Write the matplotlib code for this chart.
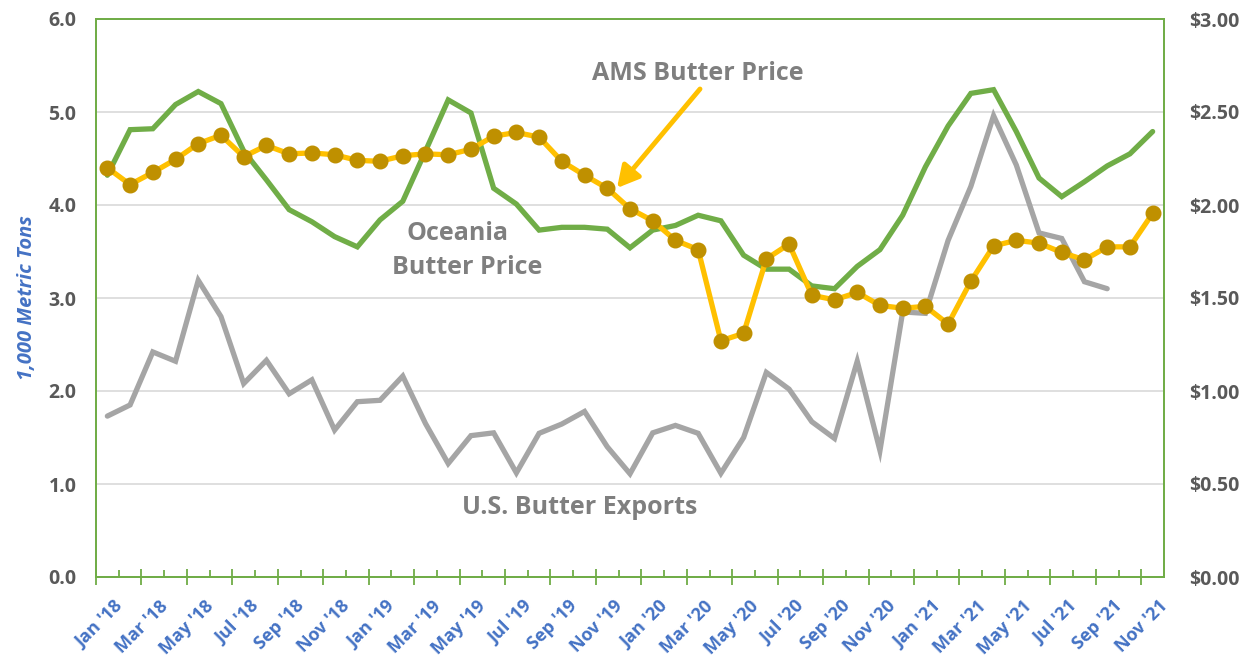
import matplotlib
matplotlib.use("Agg")
import matplotlib.pyplot as plt
import matplotlib.transforms as mtransforms
from matplotlib.patches import FancyArrowPatch
import numpy as np

plt.rcParams['font.family'] = ['Open Sans', 'DejaVu Sans']

# ---------------- data ----------------
months = ["Jan '18", "Feb '18", "Mar '18", "Apr '18", "May '18", "Jun '18", "Jul '18", "Aug '18",
          "Sep '18", "Oct '18", "Nov '18", "Dec '18", "Jan '19", "Feb '19", "Mar '19", "Apr '19",
          "May '19", "Jun '19", "Jul '19", "Aug '19", "Sep '19", "Oct '19", "Nov '19", "Dec '19",
          "Jan '20", "Feb '20", "Mar '20", "Apr '20", "May '20", "Jun '20", "Jul '20", "Aug '20",
          "Sep '20", "Oct '20", "Nov '20", "Dec '20", "Jan '21", "Feb '21", "Mar '21", "Apr '21",
          "May '21", "Jun '21", "Jul '21", "Aug '21", "Sep '21", "Oct '21", "Nov '21"]

# U.S. butter exports, 1,000 metric tons (left axis)
us_exports = [1.73, 1.85, 2.42, 2.32, 3.19, 2.80, 2.08, 2.33, 1.97, 2.12, 1.58, 1.885,
              1.90, 2.16, 1.65, 1.22, 1.52, 1.55, 1.12, 1.545, 1.645, 1.78, 1.40, 1.11,
              1.55, 1.63, 1.545, 1.115, 1.50, 2.20, 2.02, 1.67, 1.49, 2.32, 1.36, 2.85,
              2.835, 3.62, 4.20, 4.96, 4.43, 3.70, 3.64, 3.175, 3.10, None, None]

# Oceania butter price, $/lb (right axis)
oceania_price = [2.16, 2.405, 2.41, 2.54, 2.61, 2.545, 2.29, 2.135, 1.975, 1.91, 1.83, 1.775,
                 1.92, 2.02, 2.29, 2.565, 2.495, 2.09, 2.005, 1.865, 1.88, 1.88, 1.87, 1.77,
                 1.865, 1.89, 1.945, 1.915, 1.73, 1.655, 1.655, 1.565, 1.55, 1.67, 1.76, 1.945,
                 2.205, 2.425, 2.60, 2.62, 2.395, 2.145, 2.045, 2.125, 2.21, 2.275, 2.395]

# AMS butter price, $/lb (right axis)
ams_price = [2.20, 2.11, 2.175, 2.245, 2.33, 2.375, 2.26, 2.32, 2.275, 2.28, 2.27, 2.24,
             2.235, 2.265, 2.275, 2.27, 2.30, 2.37, 2.39, 2.365, 2.235, 2.16, 2.09, 1.98,
             1.915, 1.81, 1.76, 1.27, 1.31, 1.71, 1.79, 1.515, 1.49, 1.53, 1.46, 1.445,
             1.455, 1.36, 1.59, 1.78, 1.81, 1.795, 1.745, 1.705, 1.775, 1.775, 1.955]

left_ticks = [0, 1, 2, 3, 4, 5, 6]
right_ticks = [0, 0.5, 1.0, 1.5, 2.0, 2.5, 3.0]

# ---------------- style ----------------
GREEN = '#70AD47'
YELLOW = '#FFC000'
MARKER = '#BF9000'
GRAY = '#A5A5A5'
TICKGRAY = '#595959'
BLUE = '#4472C4'
TEXTGRAY = '#7F7F7F'

W, H = 1245, 660
fig = plt.figure(figsize=(W / 100, H / 100), dpi=100)
ax = fig.add_axes([96 / W, (H - 577) / H, 1068 / W, 558 / H])
ax2 = ax.twinx()

x = np.arange(len(months))
exports = np.array([np.nan if v is None else v for v in us_exports], dtype=float)

ax.plot(x, exports, color=GRAY, lw=3.8, solid_joinstyle='miter', solid_capstyle='round', zorder=3)
ax2.plot(x, oceania_price, color=GREEN, lw=3.8, solid_joinstyle='miter', solid_capstyle='round', zorder=3)
ax2.plot(x, ams_price, color=YELLOW, lw=3.8, marker='o', markersize=10.5,
         markerfacecolor=MARKER, markeredgecolor=MARKER, zorder=4)

ax.set_xlim(-0.5, len(months) - 0.5)
ax.set_ylim(0, 6)
ax2.set_ylim(0, 3)

ax.set_yticks(left_ticks)
ax.set_yticklabels([f"{v:.1f}" for v in left_ticks])
ax2.set_yticks(right_ticks)
ax2.set_yticklabels([f"${v:.2f}" for v in right_ticks])

ax.grid(axis='y', color='#D9D9D9', lw=1.2, zorder=0)
ax.set_axisbelow(True)

for a in (ax, ax2):
    for s in a.spines.values():
        s.set_color(GREEN)
        s.set_linewidth(1.3)

ax.tick_params(axis='y', length=0, pad=14, labelsize=14, labelcolor=TICKGRAY)
ax2.tick_params(axis='y', length=0, pad=18, labelsize=14, labelcolor=TICKGRAY)
for lab in ax.get_yticklabels() + ax2.get_yticklabels():
    lab.set_fontweight('bold')

# category-boundary tick marks
ax.set_xticks(np.arange(-0.5, len(months) - 0.5, 2))
ax.set_xticks(np.arange(0.5, len(months) - 0.5, 2), minor=True)
ax.tick_params(axis='x', which='major', direction='inout', length=12, width=1.3,
               color=GREEN, labelbottom=False)
ax.tick_params(axis='x', which='minor', direction='in', length=5, width=1.3, color=GREEN)
ax2.tick_params(axis='x', length=0)

# rotated month labels (every other month)
trans = ax.get_xaxis_transform() + mtransforms.ScaledTranslation(6 / 100, -20 / 100, fig.dpi_scale_trans)
for i in range(0, len(months), 2):
    ax.text(i, 0, months[i], transform=trans, rotation=45, rotation_mode='anchor',
            ha='right', va='top', color=BLUE, fontsize=13, fontweight='bold')

ax.set_ylabel('1,000 Metric Tons', color=BLUE, fontsize=14.5, fontweight='bold',
              fontstyle='italic', labelpad=8)


def fig_text(px, py, s):
    fig.text(px / W, 1 - py / H, s, ha='center', va='center', color=TEXTGRAY,
             fontsize=18, fontweight='bold')


fig_text(698, 74, 'AMS Butter Price')
fig_text(457, 233, 'Oceania')
fig_text(467, 268, 'Butter Price')
fig_text(580, 508, 'U.S. Butter Exports')

fig.patches.append(FancyArrowPatch(
    (700 / W, 1 - 89 / H), (617 / W, 1 - 188 / H), transform=fig.transFigure,
    arrowstyle='-|>,head_length=13,head_width=7', color=YELLOW, lw=3.5,
    shrinkA=0, shrinkB=0, mutation_scale=1))

fig.savefig('out.png', dpi=100)
